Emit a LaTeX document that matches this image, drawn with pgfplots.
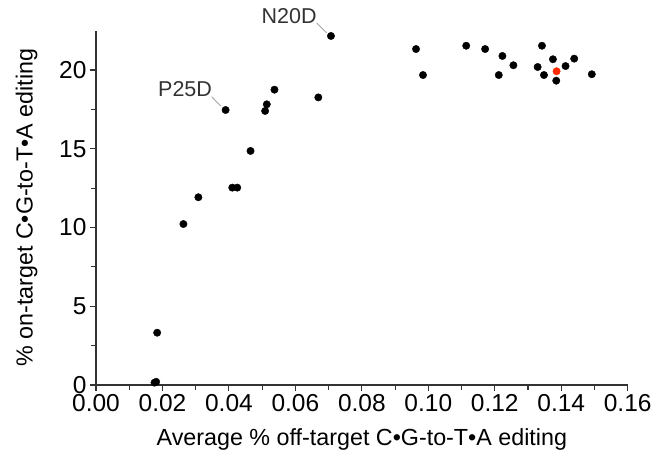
\documentclass[border=0pt]{standalone}
\usepackage{fontspec}
\setmainfont{Liberation Sans}
\usepackage{pgfplots}
\pgfplotsset{compat=1.18}
\definecolor{axcol}{HTML}{333333}
\definecolor{redpt}{HTML}{FF2A00}
\begin{document}
\begin{tikzpicture}
\begin{axis}[
  scale only axis, width=531.7pt, height=354.4pt,
  xmin=0, xmax=0.16, ymin=0, ymax=22.5,
  axis x line*=bottom, axis y line*=left,
  axis line style={-, axcol, line width=1.1pt},
  xtick={0,0.02,0.04,0.06,0.08,0.10,0.12,0.14,0.16},
  minor xtick={0.01,0.03,0.05,0.07,0.09,0.11,0.13,0.15},
  ytick={0,5,10,15,20},
  minor ytick={2.5,7.5,12.5,17.5},
  tick align=outside,
  major tick length=6pt, minor tick length=5pt,
  every tick/.style={axcol, line width=1.1pt},
  scaled x ticks=false,
  xticklabel style={/pgf/number format/.cd, fixed, fixed zerofill, precision=2},
  /pgf/number format/assume math mode=true,
  tick label style={font=\fontsize{24.5}{28}\selectfont, text=black},
  label style={font=\fontsize{23.3}{27}\selectfont, text=black},
  xlabel={Average \% off-target C•G-to-T•A editing},
  ylabel={\% on-target C•G-to-T•A editing},
  xlabel shift=10pt,
  ylabel shift=15pt,
  clip=false,
]
\path (rel axis cs:-0.1806,-0.1947) rectangle (rel axis cs:1.0758,1.0864);
\addplot[only marks, mark=*, mark size=3.7pt, black] coordinates {
(0.0176,0.15) (0.0181,0.2) (0.0184,3.32) (0.0263,10.22) (0.0308,11.92)
(0.0410,12.53) (0.0425,12.53) (0.0465,14.86) (0.0390,17.46) (0.0509,17.40)
(0.0514,17.82) (0.0537,18.75) (0.0669,18.26) (0.0707,22.16)
(0.0963,21.33) (0.0984,19.68) (0.1114,21.54) (0.1171,21.33) (0.1212,19.68)
(0.1223,20.89) (0.1256,20.30) (0.1329,20.19) (0.1342,21.54) (0.1348,19.68)
(0.1375,20.68) (0.1385,19.32) (0.1413,20.25) (0.1439,20.72) (0.1492,19.73)
};
\addplot[only marks, mark=*, mark size=3.7pt, redpt] coordinates {(0.1386,19.92)};
\draw[black!35, line width=0.9pt] (axis cs:0.0664,22.99) -- (axis cs:0.0694,22.35);
\draw[black!35, line width=0.9pt] (axis cs:0.0348,18.3) -- (axis cs:0.0376,17.7);
\node[text=axcol, font=\fontsize{21.5}{25}\selectfont] at (axis cs:0.0581,23.4) {N20D};
\node[text=axcol, font=\fontsize{21.5}{25}\selectfont] at (axis cs:0.0268,18.77) {P25D};
\end{axis}
\end{tikzpicture}
\end{document}
